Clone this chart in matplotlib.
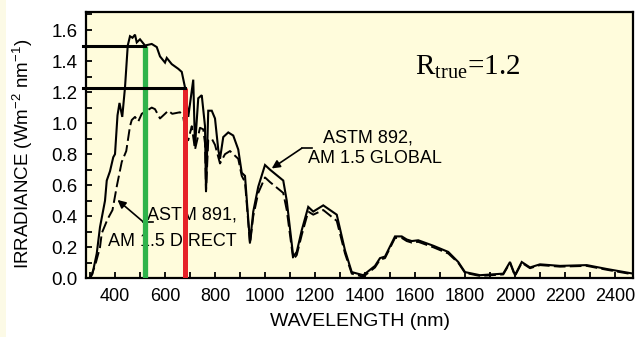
import matplotlib
matplotlib.use("Agg")
import matplotlib.pyplot as plt
from matplotlib.ticker import MultipleLocator
from matplotlib.patches import Rectangle

plt.rcParams['font.family'] = ['Liberation Sans', 'DejaVu Sans']
plt.rcParams['mathtext.fontset'] = 'custom'
plt.rcParams['mathtext.rm'] = 'Liberation Serif'
plt.rcParams['mathtext.sf'] = 'Liberation Sans'

# ASTM 892, AM 1.5 GLOBAL (solid)
wl_global = [300, 310, 327, 340, 360, 367, 380, 393, 400, 410, 418, 429, 440, 451, 460, 470,
             480, 487, 500, 520, 547, 567, 580, 600, 607, 627, 653, 667, 680, 693, 713, 720,
             733, 747, 760, 764, 773, 787, 800, 813, 820, 833, 853, 873, 893, 907, 920, 940,
             953, 973, 1000, 1020, 1073, 1087, 1113, 1127, 1147, 1173, 1193, 1233, 1287, 1320,
             1347, 1393, 1440, 1460, 1480, 1520, 1547, 1567, 1587, 1613, 1673, 1733, 1773, 1800,
             1860, 1953, 1980, 2000, 2027, 2060, 2100, 2180, 2287, 2367, 2473]
irr_global = [0.0, 0.03, 0.16, 0.33, 0.50, 0.63, 0.69, 0.78, 0.80, 1.05, 1.13, 1.04, 1.23, 1.50, 1.56, 1.55,
              1.57, 1.52, 1.54, 1.50, 1.51, 1.49, 1.43, 1.39, 1.42, 1.38, 1.35, 1.33, 1.23, 1.04, 1.28, 0.85,
              1.16, 1.18, 0.98, 0.56, 1.08, 1.08, 1.03, 0.83, 0.77, 0.91, 0.94, 0.92, 0.83, 0.68, 0.66, 0.23,
              0.43, 0.59, 0.73, 0.70, 0.63, 0.50, 0.14, 0.17, 0.31, 0.46, 0.43, 0.47, 0.41, 0.18,
              0.04, 0.02, 0.08, 0.13, 0.14, 0.27, 0.27, 0.25, 0.24, 0.245, 0.21, 0.17, 0.105, 0.04,
              0.02, 0.03, 0.105, 0.02, 0.105, 0.07, 0.09, 0.08, 0.085, 0.06, 0.03]

# ASTM 891, AM 1.5 DIRECT (dashed)
wl_direct = [300, 320, 340, 347, 370, 390, 408, 427, 445, 460, 467, 480, 493, 507, 527, 547,
             560, 580, 600, 613, 629, 660, 673, 687, 693, 707, 720, 740, 753, 760, 764, 773,
             787, 800, 820, 840, 860, 893, 907, 920, 940, 953, 973, 1000, 1020, 1073, 1087,
             1113, 1127, 1147, 1173, 1193, 1233, 1287, 1320, 1347, 1393, 1440, 1460, 1480, 1520,
             1547, 1567, 1587, 1613, 1673, 1733, 1773, 1800, 1860, 1953, 1980, 2000, 2027, 2060,
             2100, 2180, 2287, 2367, 2473]
irr_direct = [0.0, 0.08, 0.20, 0.29, 0.38, 0.44, 0.60, 0.75, 0.82, 0.98, 1.02, 1.04, 1.01, 1.06, 1.08, 1.10,
              1.09, 1.03, 1.06, 1.08, 1.06, 1.07, 1.04, 0.89, 0.89, 0.98, 0.83, 0.97, 0.96, 0.87, 0.56, 0.89,
              0.90, 0.86, 0.74, 0.80, 0.82, 0.77, 0.66, 0.62, 0.22, 0.40, 0.55, 0.65, 0.62, 0.55, 0.44,
              0.12, 0.15, 0.28, 0.43, 0.41, 0.44, 0.37, 0.16, 0.03, 0.01, 0.07, 0.12, 0.13, 0.26,
              0.26, 0.24, 0.23, 0.235, 0.20, 0.16, 0.10, 0.035, 0.015, 0.025, 0.10, 0.015, 0.10, 0.065,
              0.085, 0.075, 0.08, 0.055, 0.025]

green_wl, green_level = 520, 1.50
red_wl, red_level = 680, 1.225
x_ticks = [400, 600, 800, 1000, 1200, 1400, 1600, 1800, 2000, 2200, 2400]
y_ticks = [0.0, 0.2, 0.4, 0.6, 0.8, 1.0, 1.2, 1.4, 1.6]

fig = plt.figure(figsize=(6.42, 3.37), dpi=100)
fig.patches.append(Rectangle((0, 0), 6 / 642, 1, transform=fig.transFigure,
                             facecolor='#fcfae6', edgecolor='none', zorder=0))
ax = fig.add_axes([86 / 642, 1 - 278.3 / 337, (633 - 86) / 642, (278.3 - 12) / 337])
ax.set_facecolor('#fffcdc')
ax.set_xlim(284, 2472)
ax.set_ylim(0, 1.716)

ax.plot(wl_global, irr_global, color='black', lw=1.5, solid_joinstyle='miter', zorder=3)
ax.plot(wl_direct, irr_direct, color='black', lw=1.4, ls=(0, (6, 2.2)), zorder=3)

ax.plot([green_wl, green_wl], [0, green_level], color='#2fb34b', lw=3.8, solid_capstyle='butt', zorder=4)
ax.plot([red_wl, red_wl], [0, red_level], color='#e62228', lw=3.6, solid_capstyle='butt', zorder=4)
ax.plot([272, green_wl], [green_level, green_level], color='black', lw=2.2, clip_on=False, zorder=5)
ax.plot([272, red_wl], [red_level, red_level], color='black', lw=2.2, clip_on=False, zorder=5)

ax.set_xticks(x_ticks)
ax.set_yticks(y_ticks)
ax.set_yticklabels([f"{v:.1f}" for v in y_ticks])
ax.xaxis.set_minor_locator(MultipleLocator(100))
ax.yaxis.set_minor_locator(MultipleLocator(0.1))
ax.tick_params(axis='both', which='both', direction='in', width=1.3, length=4,
               top=False, right=False, labelsize=13)
ax.tick_params(axis='y', labelsize=13.5)
ax.tick_params(axis='x', pad=7)
ax.tick_params(axis='y', pad=6)
for s in ax.spines.values():
    s.set_linewidth(1.6)

ax.set_xlabel('WAVELENGTH (nm)', fontsize=14, labelpad=6)
ax.set_ylabel(r'IRRADIANCE (Wm$^{\mathsf{-2}}$ nm$^{\mathsf{-1}}$)', fontsize=13.5)
ax.yaxis.set_label_coords(-0.093, 0.467)

ax.text(1232, 0.904, 'ASTM 892,', fontsize=13, va='center', ha='left')
ax.text(1172, 0.775, 'AM 1.5 GLOBAL', fontsize=13, va='center', ha='left')
ax.plot([1187, 1147], [0.838, 0.838], color='black', lw=1.2, zorder=3)
ax.annotate('', xy=(1027, 0.708), xytext=(1147, 0.838),
            arrowprops=dict(arrowstyle='-|>', color='black', lw=1.2, mutation_scale=12,
                            shrinkA=0, shrinkB=0))

ax.text(528, 0.408, 'ASTM 891,', fontsize=13, va='center', ha='left', zorder=2)
ax.text(372, 0.234, 'AM 1.5 DIRECT', fontsize=13, va='center', ha='left', zorder=2)
ax.plot([552, 512], [0.365, 0.365], color='black', lw=1.2, zorder=3)
ax.annotate('', xy=(410, 0.505), xytext=(512, 0.365),
            arrowprops=dict(arrowstyle='-|>', color='black', lw=1.2, mutation_scale=12,
                            shrinkA=0, shrinkB=0))

ax.text(1600, 1.31, r'$\mathrm{R_{true}}$=1.2', fontsize=21, va='baseline', ha='left',
        family='Liberation Serif')

fig.savefig('out.png', dpi=100)
